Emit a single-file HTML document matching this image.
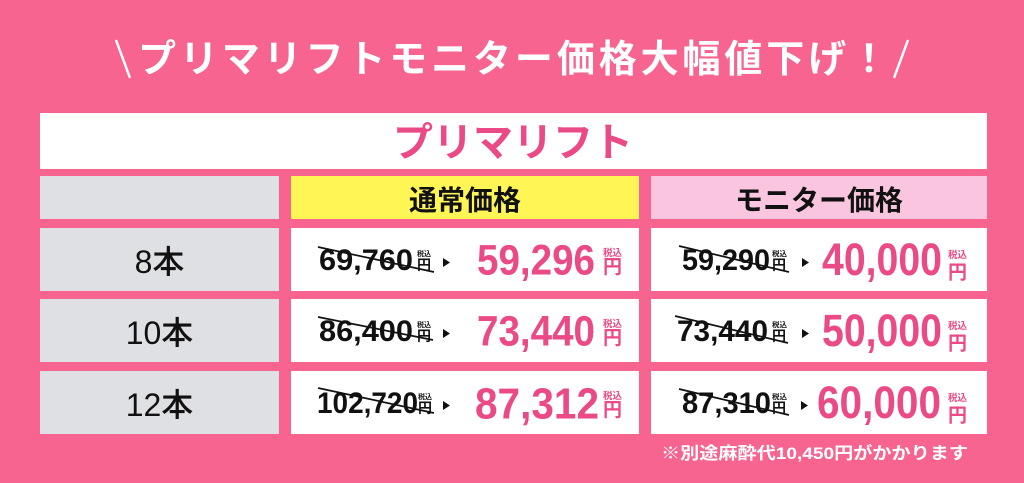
<!DOCTYPE html>
<html><head><meta charset="utf-8"><style>
html,body{margin:0;padding:0;width:1024px;height:483px;overflow:hidden;background:#f6648f}
svg{display:block}
text{font-family:"Liberation Sans","Noto Sans CJK JP",sans-serif}
</style></head><body>
<svg width="1024" height="483" viewBox="0 0 1024 483" xmlns="http://www.w3.org/2000/svg">
<rect x="0" y="0" width="1024" height="483" fill="#f6648f"/>
<!-- title -->
<line x1="116" y1="40" x2="130" y2="78" stroke="#fff" stroke-width="2.5"/>
<line x1="908" y1="40" x2="894" y2="78" stroke="#fff" stroke-width="2.5"/>
<text x="138" y="72" font-size="38" font-weight="700" fill="#fff" textLength="750" lengthAdjust="spacing">プリマリフトモニター価格大幅値下げ！</text>

<!-- title box -->
<rect x="40" y="113" width="947" height="56" fill="#fff"/>
<text x="513" y="156" font-size="40" font-weight="700" fill="#ea4a86" text-anchor="middle">プリマリフト</text>

<!-- header row -->
<rect x="40" y="176" width="239" height="43" fill="#dfe0e4"/>
<rect x="291" y="176" width="348" height="43" fill="#fff656"/>
<rect x="651" y="176" width="336" height="43" fill="#fac5df"/>
<text x="465" y="210" font-size="28" font-weight="700" fill="#111" text-anchor="middle">通常価格</text>
<text x="819" y="210" font-size="28" font-weight="700" fill="#111" text-anchor="middle">モニター価格</text>

<!-- rows -->
<g>
<rect x="40" y="228" width="239" height="63" fill="#dfe0e4"/>
<rect x="291" y="228" width="348" height="63" fill="#fff"/>
<rect x="651" y="228" width="336" height="63" fill="#fff"/>
<rect x="40" y="299" width="239" height="63" fill="#dfe0e4"/>
<rect x="291" y="299" width="348" height="63" fill="#fff"/>
<rect x="651" y="299" width="336" height="63" fill="#fff"/>
<rect x="40" y="371" width="239" height="63" fill="#dfe0e4"/>
<rect x="291" y="371" width="348" height="63" fill="#fff"/>
<rect x="651" y="371" width="336" height="63" fill="#fff"/>
</g>

<!-- row labels -->
<text x="159.5" y="273" font-size="32" font-weight="500" fill="#111" text-anchor="middle">8本</text>
<text x="159.5" y="344" font-size="32" font-weight="500" fill="#111" text-anchor="middle">10本</text>
<text x="159.5" y="416" font-size="32" font-weight="500" fill="#111" text-anchor="middle">12本</text>

<!-- Row 1 (top 228) -->
<g fill="#111">
<text x="319" y="270" font-size="30" font-weight="700" textLength="94" lengthAdjust="spacingAndGlyphs">69,760</text>
<text x="417" y="256" font-size="7" font-weight="700" textLength="14" lengthAdjust="spacingAndGlyphs">税込</text>
<text x="417" y="270" font-size="14" font-weight="700">円</text>
<line x1="318" y1="247" x2="434" y2="272" stroke="#111" stroke-width="1.7"/>
<polygon points="443,258 450,262.5 443,267"/>

<text x="682" y="270" font-size="30" font-weight="700" textLength="88" lengthAdjust="spacingAndGlyphs">59,290</text>
<text x="772" y="256" font-size="7" font-weight="700" textLength="15" lengthAdjust="spacingAndGlyphs">税込</text>
<text x="772" y="270" font-size="14" font-weight="700">円</text>
<line x1="679" y1="246" x2="789" y2="272" stroke="#111" stroke-width="1.7"/>
<polygon points="802,258 809,262.5 802,267"/>
</g>
<g fill="#ea4a86">
<text x="477" y="274.5" font-size="43" font-weight="700" textLength="118" lengthAdjust="spacingAndGlyphs">59,296</text>
<text x="603" y="256" font-size="9.5" font-weight="700" textLength="19" lengthAdjust="spacingAndGlyphs">税込</text>
<text x="603" y="273" font-size="19" font-weight="700">円</text>
<text x="822" y="275" font-size="45" font-weight="700" textLength="120" lengthAdjust="spacingAndGlyphs">40,000</text>
<text x="948" y="258" font-size="9.5" font-weight="700" textLength="19" lengthAdjust="spacingAndGlyphs">税込</text>
<text x="948" y="278.5" font-size="19" font-weight="700">円</text>
</g>

<!-- Row 2 (top 299) -->
<g fill="#111">
<text x="319" y="341" font-size="30" font-weight="700" textLength="94" lengthAdjust="spacingAndGlyphs">86,400</text>
<text x="417" y="327" font-size="7" font-weight="700" textLength="14" lengthAdjust="spacingAndGlyphs">税込</text>
<text x="417" y="341" font-size="14" font-weight="700">円</text>
<line x1="318" y1="317" x2="433" y2="340" stroke="#111" stroke-width="1.7"/>
<polygon points="443,329 450,333.5 443,338"/>

<text x="677" y="341" font-size="30" font-weight="700" textLength="91" lengthAdjust="spacingAndGlyphs">73,440</text>
<text x="772" y="327" font-size="7" font-weight="700" textLength="15" lengthAdjust="spacingAndGlyphs">税込</text>
<text x="772" y="341" font-size="14" font-weight="700">円</text>
<line x1="675" y1="316" x2="788" y2="343" stroke="#111" stroke-width="1.7"/>
<polygon points="802,329 809,333.5 802,338"/>
</g>
<g fill="#ea4a86">
<text x="477" y="345.5" font-size="43" font-weight="700" textLength="118" lengthAdjust="spacingAndGlyphs">73,440</text>
<text x="603" y="327" font-size="9.5" font-weight="700" textLength="19" lengthAdjust="spacingAndGlyphs">税込</text>
<text x="603" y="344" font-size="19" font-weight="700">円</text>
<text x="822" y="346" font-size="45" font-weight="700" textLength="120" lengthAdjust="spacingAndGlyphs">50,000</text>
<text x="948" y="329" font-size="9.5" font-weight="700" textLength="19" lengthAdjust="spacingAndGlyphs">税込</text>
<text x="948" y="349.5" font-size="19" font-weight="700">円</text>
</g>

<!-- Row 3 (top 371) -->
<g fill="#111">
<text x="317" y="413" font-size="30" font-weight="700" textLength="101" lengthAdjust="spacingAndGlyphs">102,720</text>
<text x="418" y="399" font-size="7" font-weight="700" textLength="14" lengthAdjust="spacingAndGlyphs">税込</text>
<text x="418" y="413" font-size="14" font-weight="700">円</text>
<line x1="318" y1="388" x2="434" y2="413" stroke="#111" stroke-width="1.7"/>
<polygon points="443,401 450,405.5 443,410"/>

<text x="682" y="413" font-size="30" font-weight="700" textLength="89" lengthAdjust="spacingAndGlyphs">87,310</text>
<text x="772" y="399" font-size="7" font-weight="700" textLength="15" lengthAdjust="spacingAndGlyphs">税込</text>
<text x="772" y="413" font-size="14" font-weight="700">円</text>
<line x1="679" y1="389" x2="789" y2="415" stroke="#111" stroke-width="1.7"/>
<polygon points="801,401 808,405.5 801,410"/>
</g>
<g fill="#ea4a86">
<text x="475" y="418.5" font-size="44" font-weight="700" textLength="124" lengthAdjust="spacingAndGlyphs">87,312</text>
<text x="603" y="399" font-size="9.5" font-weight="700" textLength="19" lengthAdjust="spacingAndGlyphs">税込</text>
<text x="603" y="416" font-size="19" font-weight="700">円</text>
<text x="817" y="418" font-size="45" font-weight="700" textLength="124" lengthAdjust="spacingAndGlyphs">60,000</text>
<text x="948" y="401" font-size="9.5" font-weight="700" textLength="19" lengthAdjust="spacingAndGlyphs">税込</text>
<text x="948" y="421.5" font-size="19" font-weight="700">円</text>
</g>

<!-- footer note -->
<text x="661" y="459" font-size="17" font-weight="700" fill="#fff" textLength="307" lengthAdjust="spacingAndGlyphs">※別途麻酔代10,450円がかかります</text>
</svg>
</body></html>
